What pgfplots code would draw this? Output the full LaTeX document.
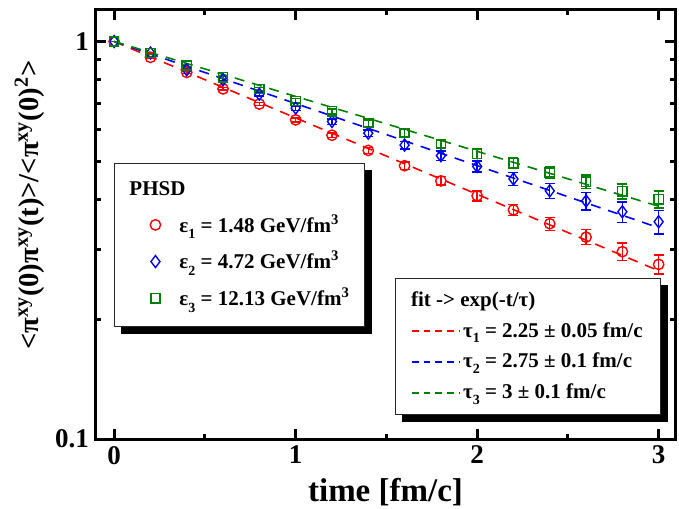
\documentclass[border=0pt]{standalone}
\usepackage{fontspec}
\setmainfont{Liberation Serif}
\usepackage{pgfplots}
\usepackage{pgfplotstable}
\pgfplotsset{compat=1.18}
\definecolor{dgreen}{RGB}{0,128,0}
\pgfdeclarelayer{bg}
\pgfsetlayers{bg,main}

\pgfplotstableread{
t r er b eb g eg
0.0 1.000 0.000 1.000 0.000 1.000 0.000
0.2 0.912 0.003 0.935 0.004 0.935 0.004
0.4 0.836 0.004 0.849 0.005 0.870 0.005
0.6 0.760 0.005 0.801 0.006 0.813 0.006
0.8 0.696 0.006 0.737 0.008 0.759 0.008
1.0 0.635 0.007 0.680 0.009 0.709 0.009
1.2 0.581 0.008 0.629 0.010 0.667 0.010
1.4 0.532 0.009 0.588 0.011 0.623 0.011
1.6 0.487 0.010 0.549 0.012 0.588 0.012
1.8 0.446 0.011 0.516 0.014 0.552 0.013
2.0 0.409 0.012 0.485 0.015 0.522 0.014
2.2 0.377 0.012 0.451 0.017 0.494 0.015
2.4 0.348 0.013 0.421 0.018 0.468 0.016
2.6 0.322 0.014 0.397 0.020 0.444 0.017
2.8 0.296 0.015 0.373 0.022 0.420 0.018
3.0 0.275 0.015 0.352 0.024 0.401 0.020
}\data

\tikzset{
  leg/.style={
    draw=black!85, line width=0.5pt, fill=white,
    font=\bfseries\fontsize{10.5}{12}\selectfont,
    inner xsep=8pt, inner ysep=8pt,
    nodes={inner sep=1pt},
    row sep=6pt,
  },
}

\begin{document}
\begin{tikzpicture}
% fit lines and their legend
\begin{axis}[scale only axis, width=289.5pt, height=214.5pt,
  at={(0,0)}, anchor=south west,
  ymode=log, xmin=-0.1, xmax=3.09, ymin=0.1, ymax=1.2,
  hide axis,
  legend cell align=left,
  legend style={leg, name=legfit, row sep=4.5pt, inner ysep=5.5pt, at={(axis description cs:0.516,0.375)}, anchor=north west},
  legend image code/.code={\draw[#1, line width=0.9pt, dash pattern=on 3.3pt off 2.5pt] (0pt,0pt) -- (24pt,0pt);},
]
\addlegendimage{empty legend}
\addlegendentry{\hspace{-26pt}fit -> exp(-t/τ)}
\addplot[red, line width=0.8pt, dash pattern=on 5pt off 4pt] coordinates {(0,1) (3,0.265)};
\addlegendentry{τ\raisebox{-0.6ex}{\fontsize{7}{8}\selectfont 1} = 2.25 ± 0.05 fm/c}
\addplot[blue, line width=0.8pt, dash pattern=on 5pt off 4pt] coordinates {(0,1) (3,0.340)};
\addlegendentry{τ\raisebox{-0.6ex}{\fontsize{7}{8}\selectfont 2} = 2.75 ± 0.1 fm/c}
\addplot[dgreen, line width=0.8pt, dash pattern=on 5pt off 4pt] coordinates {(0,1) (3,0.385)};
\addlegendentry{τ\raisebox{-0.6ex}{\fontsize{7}{8}\selectfont 3} = 3 ± 0.1 fm/c}
\end{axis}
% data
\begin{axis}[scale only axis, width=289.5pt, height=214.5pt,
  at={(0,0)}, anchor=south west,
  ymode=log, xmin=-0.1, xmax=3.09, ymin=0.1, ymax=1.2,
  name=main,
  axis line style={line width=1.5pt},
  tick style={line width=1.5pt, black},
  major tick length=5pt, minor tick length=2.5pt,
  xtick={0,1,2,3}, minor xtick={0.5,1.5,2.5},
  ytick={0.1,1}, yticklabels={0.1,1},
  minor ytick={0.2,0.3,0.4,0.5,0.6,0.7,0.8,0.9},
  /pgf/number format/assume math mode=true,
  tick label style={font=\bfseries\fontsize{13.5}{15}\selectfont},
  xlabel={time [fm/c]},
  ylabel={<π\textsuperscript{xy}(0)π\textsuperscript{xy}(t)>/<π\textsuperscript{xy}(0)\textsuperscript{2}>},
  label style={font=\bfseries\fontsize{14.3}{17}\selectfont},
  xlabel style={font=\bfseries\fontsize{16.5}{18}\selectfont, at={(axis description cs:0.5,-0.124)}, anchor=center},
  ylabel style={at={(axis description cs:-0.115,0.545)}, anchor=center},
  legend cell align=left,
  legend style={leg, name=legphsd, inner xsep=6.5pt, at={(axis description cs:0.031,0.643)}, anchor=north west},
  legend image code/.code={\path[draw=none, fill=none] (0pt,0pt) -- (25pt,0pt); \draw[#1, only marks] plot coordinates {(14pt,0pt)};},
]
\addlegendimage{empty legend}
\addlegendentry{\hspace{-25pt}PHSD}
\addplot[red, only marks, mark=o, mark size=2.6pt, mark options={line width=0.7pt},
  error bars/.cd, y dir=both, y explicit, error bar style={line width=0.7pt}, error mark options={rotate=90, mark size=2.5pt, line width=0.7pt}]
  table[x=t, y=r, y error=er] {\data};
\addlegendentry{ε\raisebox{-0.7ex}{\fontsize{7}{8}\selectfont 1} = 1.48 GeV/fm\textsuperscript{3}}
\addplot[blue, only marks, mark=diamond, mark size=3pt, mark options={line width=0.7pt},
  error bars/.cd, y dir=both, y explicit, error bar style={line width=0.7pt}, error mark options={rotate=90, mark size=2.5pt, line width=0.7pt}]
  table[x=t, y=b, y error=eb] {\data};
\addlegendentry{ε\raisebox{-0.7ex}{\fontsize{7}{8}\selectfont 2} = 4.72 GeV/fm\textsuperscript{3}}
\addplot[dgreen, only marks, mark=square, mark size=2.3pt, mark options={line width=0.7pt},
  error bars/.cd, y dir=both, y explicit, error bar style={line width=0.7pt}, error mark options={rotate=90, mark size=2.5pt, line width=0.7pt}]
  table[x=t, y=g, y error=eg] {\data};
\addlegendentry{ε\raisebox{-0.7ex}{\fontsize{7}{8}\selectfont 3} = 12.13 GeV/fm\textsuperscript{3}}
\end{axis}
\begin{pgfonlayer}{bg}
\fill[black] ([shift={(3.5pt,-3.5pt)}]legphsd.south west) rectangle ([shift={(3.5pt,-3.5pt)}]legphsd.north east);
\fill[black] ([shift={(3.5pt,-3.5pt)}]legfit.south west) rectangle ([shift={(3.5pt,-3.5pt)}]legfit.north east);
\end{pgfonlayer}
\pgfresetboundingbox
\path ([shift={(-48pt,-34.5pt)}]main.south west) rectangle ([shift={(2pt,5pt)}]main.north east);
\end{tikzpicture}
\end{document}
